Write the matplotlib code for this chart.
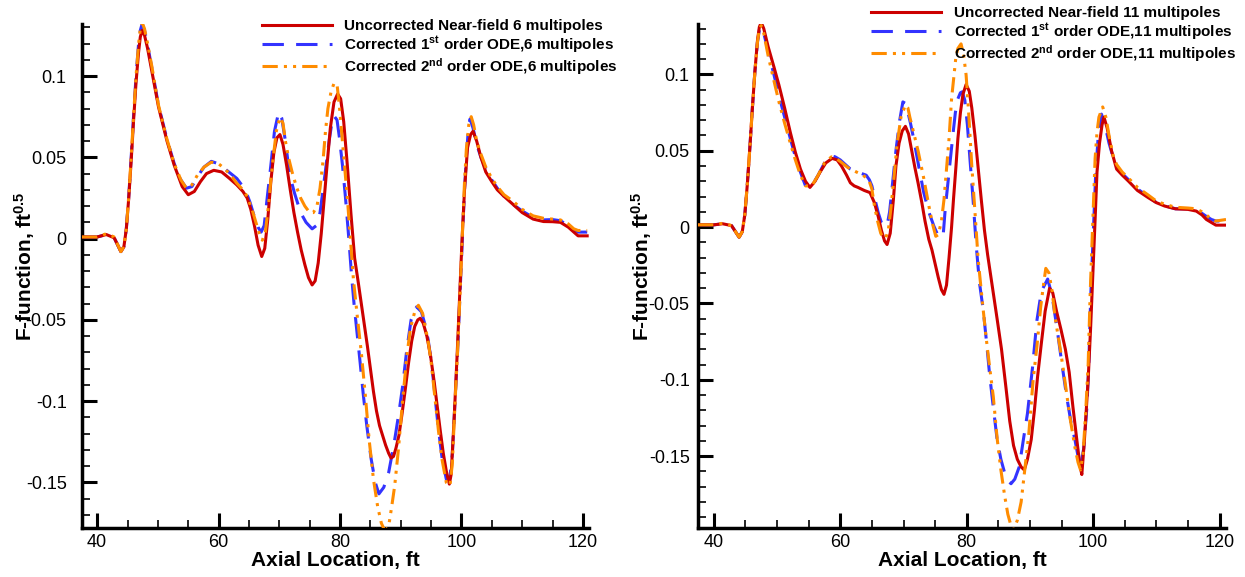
import matplotlib
matplotlib.use("Agg")
import matplotlib.pyplot as plt
from matplotlib.ticker import MultipleLocator, FuncFormatter

plt.rcParams['font.family'] = ['Liberation Sans', 'DejaVu Sans']
plt.rcParams['mathtext.fontset'] = 'custom'
plt.rcParams['mathtext.rm'] = 'Liberation Sans'
plt.rcParams['mathtext.bf'] = 'Liberation Sans:bold'
plt.rcParams['mathtext.it'] = 'Liberation Sans:italic'
plt.rcParams['axes.unicode_minus'] = False

# ---------------- Left panel: 6 multipoles ----------------
L_red_x = [37.5, 40.0, 41.5, 42.8, 43.9, 44.4, 44.8, 45.2, 45.6, 46.0, 46.4, 46.8, 47.1, 47.4, 47.8,
           48.3, 49.0, 50.1, 51.5, 52.7, 54.0, 55.0, 56.0, 57.0, 58.0, 59.2, 60.5, 61.8, 63.0, 64.0,
           64.7, 65.3, 65.9, 66.5, 67.1, 67.6, 68.1, 68.6, 69.1, 69.6, 70.1, 70.6, 71.2, 71.8, 72.4,
           73.0, 73.6, 74.2, 74.8, 75.4, 75.9, 76.4, 76.9, 77.4, 77.9, 78.4, 79.0, 79.6, 80.1, 80.6,
           81.2, 81.8, 82.4, 83.0, 83.5, 84.0, 84.5, 85.0, 85.5, 86.0, 86.5, 87.0, 87.5, 88.0, 88.4,
           88.8, 89.2, 89.7, 90.2, 90.7, 91.3, 91.8, 92.3, 92.8, 93.2, 93.7, 94.3, 94.9, 95.5, 96.0,
           96.5, 97.0, 97.5, 98.0, 98.3, 98.8, 99.3, 99.7, 100.1, 100.5, 101.0, 101.5, 101.9, 102.5,
           103.2, 104.0, 105.0, 105.9, 107.0, 108.5, 110.0, 111.8, 113.5, 115.0, 116.3, 117.6, 118.5,
           119.2, 120.7]
L_red_y = [0.001, 0.001, 0.0025, 0.0005, -0.008, -0.005, 0.006, 0.025, 0.048, 0.073, 0.096, 0.114,
           0.124, 0.128, 0.125, 0.117, 0.103, 0.081, 0.060, 0.045, 0.032, 0.027, 0.029, 0.035, 0.040,
           0.042, 0.041, 0.037, 0.033, 0.029, 0.025, 0.018, 0.008, -0.004, -0.011, -0.006, 0.012,
           0.035, 0.053, 0.062, 0.064, 0.058, 0.045, 0.030, 0.016, 0.004, -0.007, -0.016, -0.024,
           -0.0285, -0.026, -0.015, 0.003, 0.025, 0.047, 0.068, 0.084, 0.089, 0.086, 0.072, 0.045,
           0.015, -0.012, -0.027, -0.040, -0.053, -0.066, -0.080, -0.094, -0.106, -0.115, -0.121,
           -0.127, -0.132, -0.135, -0.134, -0.129, -0.121, -0.108, -0.094, -0.076, -0.063, -0.054,
           -0.050, -0.049, -0.052, -0.060, -0.072, -0.088, -0.103, -0.118, -0.132, -0.143, -0.151,
           -0.145, -0.110, -0.070, -0.035, 0.000, 0.030, 0.056, 0.064, 0.066, 0.060, 0.050, 0.041,
           0.035, 0.030, 0.026, 0.021, 0.016, 0.012, 0.0105, 0.0104, 0.010, 0.007, 0.004, 0.0017, 0.0017]

L_blue_x = [37.5, 40.0, 41.5, 42.8, 43.9, 44.4, 44.8, 45.2, 45.6, 46.0, 46.4, 46.8, 47.1, 47.4, 47.8,
            48.3, 49.0, 50.1, 51.5, 52.7, 53.8, 54.7, 55.6, 56.5, 57.6, 58.8, 60.0, 61.0, 62.0, 63.0,
            64.4, 65.2, 66.0, 66.5, 67.0, 67.5, 68.0, 68.6, 69.2, 69.9, 70.4, 71.0, 71.5, 72.0, 72.5,
            73.0, 73.5, 74.4, 75.4, 76.1, 76.7, 77.2, 77.7, 78.2, 78.6, 79.0, 79.5, 79.9, 80.4, 80.9,
            81.4, 81.9, 82.3, 82.8, 83.3, 83.8, 84.4, 85.1, 85.8, 86.4, 87.2, 88.0, 88.9, 89.7, 90.3,
            91.0, 91.7, 92.6, 93.4, 94.0, 94.5, 95.0, 95.4, 95.8, 96.2, 96.8, 97.5, 98.1, 98.5, 98.8,
            99.1, 99.4, 99.8, 100.2, 100.5, 100.8, 101.1, 101.4, 101.9, 102.5, 103.2, 104.0, 105.0,
            105.9, 107.0, 108.5, 110.0, 111.8, 113.5, 115.0, 116.3, 117.6, 118.5, 119.2, 120.7]
L_blue_y = [0.001, 0.001, 0.0025, 0.0005, -0.008, -0.005, 0.006, 0.026, 0.050, 0.076, 0.100, 0.119,
            0.128, 0.132, 0.128, 0.119, 0.105, 0.082, 0.061, 0.046, 0.036, 0.031, 0.032, 0.038, 0.044,
            0.0475, 0.046, 0.043, 0.040, 0.037, 0.030, 0.022, 0.012, 0.007, 0.004, 0.008, 0.025, 0.045,
            0.066, 0.078, 0.074, 0.060, 0.045, 0.035, 0.028, 0.022, 0.016, 0.010, 0.006, 0.008, 0.016,
            0.030, 0.045, 0.060, 0.070, 0.0755, 0.073, 0.062, 0.045, 0.025, 0.002, -0.023, -0.040,
            -0.058, -0.076, -0.095, -0.115, -0.135, -0.150, -0.157, -0.153, -0.144, -0.126, -0.107,
            -0.091, -0.068, -0.050, -0.042, -0.045, -0.053, -0.062, -0.075, -0.088, -0.103, -0.117,
            -0.135, -0.148, -0.147, -0.132, -0.110, -0.088, -0.066, -0.030, 0.005, 0.030, 0.050, 0.066,
            0.0735, 0.068, 0.058, 0.050, 0.043, 0.036, 0.031, 0.026, 0.021, 0.017, 0.013, 0.0115,
            0.0117, 0.011, 0.008, 0.006, 0.004, 0.004]

L_orng_x = [37.5, 40.0, 41.5, 42.8, 43.9, 44.4, 44.8, 45.2, 45.6, 46.0, 46.4, 46.8, 47.1, 47.4, 47.8,
            48.3, 49.0, 50.1, 51.5, 52.7, 53.8, 54.7, 55.6, 56.5, 57.6, 58.8, 60.0, 61.0, 62.0, 63.0,
            64.0, 64.7, 65.5, 66.3, 66.8, 67.2, 67.7, 68.2, 68.6, 69.0, 69.5, 70.1, 70.6, 71.0, 71.5,
            72.1, 72.8, 73.5, 74.2, 75.0, 75.6, 76.2, 76.7, 77.2, 77.6, 78.0, 78.5, 79.0, 79.5, 79.9,
            80.5, 81.2, 81.7, 82.2, 82.9, 83.5, 84.2, 84.8, 85.5, 86.2, 86.8, 87.4, 88.0, 88.5, 89.0,
            89.6, 90.3, 91.0, 91.6, 92.3, 92.9, 93.6, 94.5, 95.0, 95.4, 95.8, 96.2, 96.8, 97.5, 98.1,
            98.5, 98.8, 99.1, 99.4, 99.8, 100.2, 100.5, 100.8, 101.2, 101.6, 102.0, 102.5, 103.2,
            104.0, 105.0, 105.9, 107.0, 108.5, 110.0, 111.8, 113.5, 115.0, 116.3, 117.6, 118.5, 119.2,
            120.7]
L_orng_y = [0.001, 0.001, 0.003, 0.001, -0.008, -0.005, 0.006, 0.026, 0.050, 0.076, 0.100, 0.119,
            0.129, 0.133, 0.129, 0.120, 0.106, 0.082, 0.061, 0.046, 0.036, 0.031, 0.033, 0.039, 0.044,
            0.047, 0.046, 0.043, 0.039, 0.034, 0.030, 0.026, 0.018, 0.008, 0.002, -0.001, 0.004, 0.020,
            0.036, 0.050, 0.066, 0.0745, 0.071, 0.060, 0.050, 0.041, 0.032, 0.025, 0.020, 0.016, 0.016,
            0.020, 0.031, 0.048, 0.066, 0.080, 0.090, 0.0955, 0.095, 0.081, 0.055, 0.025, 0.000, -0.025,
            -0.050, -0.070, -0.098, -0.124, -0.148, -0.165, -0.175, -0.180, -0.177, -0.165, -0.152,
            -0.130, -0.100, -0.072, -0.055, -0.045, -0.041, -0.046, -0.063, -0.076, -0.090, -0.104,
            -0.118, -0.136, -0.150, -0.152, -0.138, -0.112, -0.088, -0.066, -0.030, 0.008, 0.035, 0.055,
            0.070, 0.075, 0.070, 0.060, 0.052, 0.044, 0.037, 0.032, 0.027, 0.023, 0.018, 0.014, 0.0125,
            0.012, 0.0115, 0.009, 0.006, 0.005, 0.005]

# ---------------- Right panel: 11 multipoles ----------------
R_red_x = [37.5, 40.0, 41.4, 42.8, 44.0, 44.5, 44.9, 45.3, 45.7, 46.1, 46.5, 46.9, 47.2, 47.5, 47.9,
           48.6, 49.5, 50.3, 51.2, 52.1, 52.9, 53.7, 54.5, 55.2, 56.0, 56.8, 57.7, 58.7, 59.5, 60.2,
           61.0, 61.6, 62.2, 62.8, 63.8, 64.7, 65.4, 66.0, 66.5, 67.0, 67.4, 67.9, 68.4, 68.8, 69.3,
           69.8, 70.3, 70.8, 71.3, 71.8, 72.3, 72.9, 73.4, 74.0, 74.5, 75.0, 75.5, 76.0, 76.4, 76.8,
           77.2, 77.6, 77.9, 78.3, 78.6, 79.0, 79.4, 79.9, 80.4, 80.8, 81.3, 81.8, 82.3, 82.8, 83.3,
           83.8, 84.3, 84.8, 85.5, 86.2, 86.8, 87.4, 88.0, 88.6, 89.1, 89.6, 90.2, 90.7, 91.2, 91.8,
           92.4, 93.1, 93.6, 94.2, 94.9, 95.6, 96.2, 96.8, 97.4, 97.9, 98.2, 98.6, 99.2, 99.6, 99.9,
           100.3, 100.6, 101.0, 101.4, 101.7, 102.2, 102.9, 103.7, 104.6, 105.6, 107.0, 108.7, 110.0,
           111.3, 113.0, 115.0, 116.3, 117.2, 117.9, 118.7, 119.4, 121.0]
R_red_y = [0.0015, 0.0015, 0.0022, 0.001, -0.0066, -0.003, 0.008, 0.028, 0.052, 0.078, 0.102, 0.122,
           0.131, 0.134, 0.130, 0.118, 0.105, 0.093, 0.078, 0.062, 0.049, 0.038, 0.030, 0.026, 0.030,
           0.036, 0.042, 0.045, 0.044, 0.040, 0.034, 0.029, 0.027, 0.026, 0.024, 0.0226, 0.016, 0.007,
           -0.002, -0.009, -0.0114, -0.004, 0.018, 0.040, 0.055, 0.063, 0.066, 0.061, 0.050, 0.039,
           0.029, 0.016, 0.004, -0.008, -0.015, -0.024, -0.033, -0.041, -0.044, -0.038, -0.020, 0.000,
           0.018, 0.040, 0.058, 0.075, 0.087, 0.0934, 0.089, 0.078, 0.060, 0.039, 0.018, -0.002,
           -0.018, -0.032, -0.046, -0.060, -0.080, -0.105, -0.127, -0.143, -0.152, -0.157, -0.159,
           -0.152, -0.139, -0.120, -0.098, -0.076, -0.055, -0.040, -0.043, -0.055, -0.067, -0.080,
           -0.095, -0.118, -0.139, -0.156, -0.162, -0.140, -0.100, -0.065, -0.035, 0.005, 0.036, 0.055,
           0.067, 0.072, 0.065, 0.050, 0.038, 0.034, 0.030, 0.024, 0.0193, 0.016, 0.0138, 0.012,
           0.0116, 0.0105, 0.008, 0.005, 0.003, 0.0013, 0.0013]

R_blue_x = [37.5, 40.0, 41.4, 42.8, 44.0, 44.5, 44.9, 45.3, 45.7, 46.1, 46.5, 46.9, 47.2, 47.5, 47.9,
            48.6, 49.5, 50.3, 51.2, 52.1, 52.9, 53.7, 54.5, 55.5, 56.5, 57.5, 58.4, 59.2, 60.0, 60.8,
            61.6, 62.8, 64.1, 64.6, 65.0, 65.5, 66.0, 66.5, 66.9, 67.4, 67.8, 68.3, 68.8, 69.4, 69.9,
            70.3, 70.6, 71.1, 71.6, 72.4, 73.2, 74.0, 74.8, 75.4, 75.9, 76.3, 76.6, 77.0, 77.3, 77.8,
            78.2, 78.6, 79.0, 79.3, 79.7, 80.1, 80.5, 81.0, 81.5, 82.0, 82.6, 83.1, 83.6, 84.2, 84.8,
            85.4, 86.0, 86.5, 87.0, 87.6, 88.3, 89.0, 89.6, 90.4, 91.1, 91.8, 92.8, 93.5, 94.3, 95.0,
            95.8, 96.5, 97.1, 97.6, 98.0, 98.5, 99.0, 99.3, 99.6, 100.0, 100.4, 100.8, 101.3, 101.8,
            102.5, 103.2, 103.7, 104.6, 105.6, 107.0, 108.7, 110.0, 111.3, 113.0, 115.0, 116.3, 117.2,
            117.9, 118.7, 119.4, 121.0]
R_blue_y = [0.0015, 0.0015, 0.0022, 0.001, -0.0066, -0.003, 0.008, 0.028, 0.052, 0.078, 0.102, 0.121,
            0.129, 0.131, 0.127, 0.115, 0.100, 0.086, 0.072, 0.058, 0.046, 0.036, 0.027, 0.027, 0.034,
            0.042, 0.047, 0.046, 0.044, 0.041, 0.038, 0.036, 0.034, 0.031, 0.027, 0.018, 0.0095, 0.003,
            0.0007, 0.001, 0.010, 0.030, 0.050, 0.070, 0.082, 0.081, 0.077, 0.068, 0.058, 0.040, 0.0226,
            0.010, 0.0007, -0.005, -0.007, -0.004, 0.012, 0.028, 0.040, 0.060, 0.075, 0.084, 0.088,
            0.0886, 0.083, 0.067, 0.045, 0.018, -0.012, -0.036, -0.054, -0.074, -0.096, -0.118, -0.139,
            -0.152, -0.161, -0.166, -0.168, -0.165, -0.157, -0.138, -0.122, -0.092, -0.061, -0.042,
            -0.034, -0.045, -0.067, -0.088, -0.111, -0.128, -0.139, -0.150, -0.156, -0.145, -0.118,
            -0.090, -0.046, -0.005, 0.036, 0.060, 0.074, 0.068, 0.055, 0.045, 0.040, 0.035, 0.031, 0.025,
            0.020, 0.016, 0.014, 0.012, 0.012, 0.011, 0.009, 0.007, 0.005, 0.004, 0.004]

R_orng_x = [37.5, 40.0, 41.4, 42.8, 44.0, 44.5, 44.9, 45.3, 45.7, 46.1, 46.5, 46.9, 47.2, 47.5, 47.9,
            48.6, 49.5, 50.3, 51.2, 52.1, 52.9, 53.7, 54.5, 55.5, 56.5, 57.5, 58.6, 59.3, 60.0, 61.2,
            62.6, 63.6, 64.5, 65.0, 65.4, 65.9, 66.4, 66.8, 67.2, 67.6, 68.0, 68.5, 69.0, 69.6, 70.3,
            70.7, 71.0, 71.6, 72.3, 73.2, 74.1, 74.6, 75.1, 75.5, 76.0, 76.4, 76.8, 77.2, 77.6, 78.0,
            78.3, 78.6, 79.1, 79.5, 79.9, 80.3, 80.8, 81.3, 81.8, 82.4, 83.0, 83.6, 84.2, 84.8, 85.4,
            86.0, 86.5, 86.9, 87.4, 88.0, 88.6, 89.2, 89.8, 90.5, 91.1, 91.7, 92.1, 92.5, 93.0, 93.5,
            94.0, 94.8, 95.5, 96.3, 97.1, 97.6, 98.0, 98.4, 98.8, 99.2, 99.5, 99.9, 100.3, 100.6,
            100.9, 101.5, 102.0, 102.5, 103.2, 103.7, 104.6, 105.6, 107.0, 108.7, 110.0, 111.3, 113.0,
            115.0, 116.3, 117.2, 117.9, 118.7, 119.4, 121.0]
R_orng_y = [0.0015, 0.0015, 0.0025, 0.001, -0.0066, -0.003, 0.008, 0.028, 0.052, 0.078, 0.102, 0.121,
            0.130, 0.132, 0.127, 0.112, 0.096, 0.082, 0.068, 0.055, 0.044, 0.034, 0.027, 0.027, 0.034,
            0.042, 0.046, 0.045, 0.043, 0.039, 0.036, 0.034, 0.031, 0.025, 0.014, 0.004, -0.004, -0.007,
            -0.007, -0.002, 0.012, 0.033, 0.055, 0.072, 0.080, 0.078, 0.072, 0.062, 0.050, 0.032,
            0.012, 0.002, -0.006, -0.005, 0.004, 0.018, 0.038, 0.058, 0.084, 0.100, 0.112, 0.117, 0.120,
            0.113, 0.0996, 0.075, 0.040, 0.010, -0.021, -0.046, -0.070, -0.091, -0.111, -0.138, -0.159,
            -0.176, -0.188, -0.194, -0.198, -0.192, -0.180, -0.158, -0.136, -0.100, -0.078, -0.052,
            -0.039, -0.027, -0.030, -0.042, -0.060, -0.080, -0.100, -0.124, -0.144, -0.154, -0.159,
            -0.148, -0.122, -0.090, -0.046, 0.000, 0.045, 0.062, 0.072, 0.0787, 0.072, 0.060, 0.046,
            0.041, 0.036, 0.032, 0.026, 0.021, 0.017, 0.015, 0.013, 0.0125, 0.012, 0.010, 0.008, 0.005,
            0.004, 0.005]

x_ticks = [40, 60, 80, 100, 120]

RED = '#cc0000'
BLUE = '#3333ff'
ORNG = '#ff8c00'

fig = plt.figure(figsize=(12.45, 5.77), dpi=100)
axL = fig.add_axes([82/1245, 1-528/577, (589-82)/1245, (528-24)/577])
axR = fig.add_axes([698/1245, 1-528/577, (1226-698)/1245, (528-24)/577])


def fmt(v, pos):
    s = ('%.2f' % v).rstrip('0').rstrip('.')
    if s in ('-0', ''):
        s = '0'
    return s


def style(ax, ylim, ylab_x, ypad):
    ax.set_xlim(37.5, 121)
    ax.set_ylim(*ylim)
    for s in ('top', 'right'):
        ax.spines[s].set_visible(False)
    for s in ('left', 'bottom'):
        ax.spines[s].set_linewidth(2.5)
    ax.set_xticks(x_ticks)
    ax.xaxis.set_minor_locator(MultipleLocator(5))
    ax.yaxis.set_major_locator(MultipleLocator(0.05))
    ax.yaxis.set_minor_locator(MultipleLocator(0.01))
    ax.yaxis.set_major_formatter(FuncFormatter(fmt))
    ax.tick_params(which='major', direction='in', length=11, width=2.2, labelsize=13)
    ax.tick_params(which='minor', direction='in', length=6, width=1.2)
    ax.tick_params(axis='x', which='major', pad=4)
    ax.tick_params(axis='y', which='major', pad=ypad)
    ax.tick_params(top=False, right=False, which='both')
    ax.set_xlabel('Axial Location, ft', fontsize=15, fontweight='bold', labelpad=0)
    ax.set_ylabel(r'F-function, ft$^{\mathbf{0.5}}$', fontsize=15, fontweight='bold')
    ax.yaxis.set_label_coords(ylab_x, 0.52)


def draw(ax, data, labels, anchor):
    (rx, ry), (bx, by), (ox, oy) = data
    ax.plot(rx, ry, color=RED, lw=2.2, ls='-', label=labels[0], zorder=3)
    ax.plot(bx, by, color=BLUE, lw=2.2, ls=(0, (7, 4)), label=labels[1], zorder=2)
    ax.plot(ox, oy, color=ORNG, lw=2.2, ls=(0, (5, 2, 1, 2, 1, 2)), label=labels[2], zorder=4)
    leg = ax.legend(loc='upper left', bbox_to_anchor=anchor, bbox_transform=fig.transFigure,
                    frameon=False, borderpad=0, borderaxespad=0, handlelength=4.6,
                    handletextpad=0.8, labelspacing=0.08, prop={'weight': 'bold', 'size': 11})
    for line in leg.get_lines():
        line.set_linewidth(2.2)


style(axL, (-0.178, 0.132), (37 - 82) / 507, 11)
style(axR, (-0.197, 0.133), (654 - 698) / 528, 6)

draw(axL, [(L_red_x, L_red_y), (L_blue_x, L_blue_y), (L_orng_x, L_orng_y)],
     ['Uncorrected Near-field 6 multipoles',
      r'Corrected 1$^{\mathbf{st}}$ order ODE,6 multipoles',
      r'Corrected 2$^{\mathbf{nd}}$ order ODE,6 multipoles'],
     (262/1245, 1-19/577))
draw(axR, [(R_red_x, R_red_y), (R_blue_x, R_blue_y), (R_orng_x, R_orng_y)],
     ['Uncorrected Near-field 11 multipoles',
      r'Corrected 1$^{\mathbf{st}}$ order ODE,11 multipoles',
      r'Corrected 2$^{\mathbf{nd}}$ order ODE,11 multipoles'],
     (871/1245, 1-6/577))

fig.savefig('out.png', dpi=100)
